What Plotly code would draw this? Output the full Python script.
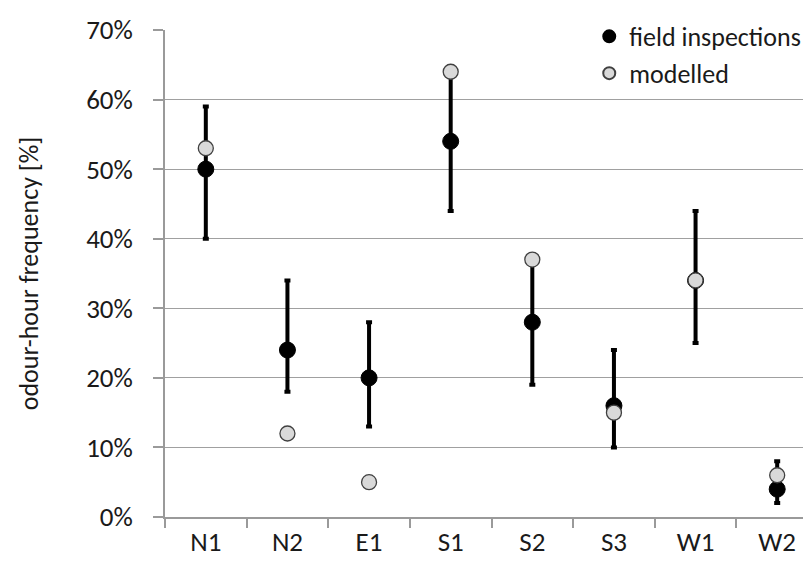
import plotly.graph_objects as go

sites = ["N1", "N2", "E1", "S1", "S2", "S3", "W1", "W2"]
field = [50, 24, 20, 54, 28, 16, 34, 4]
field_upper = [59, 34, 28, 64, 37, 24, 44, 8]
field_lower = [40, 18, 13, 44, 19, 10, 25, 2]
modelled = [53, 12, 5, 64, 37, 15, 34, 6]
y_ticks = [0, 10, 20, 30, 40, 50, 60, 70]
y_tick_labels = ["0%", "10%", "20%", "30%", "40%", "50%", "60%", "70%"]

err_plus = [u - v for u, v in zip(field_upper, field)]
err_minus = [v - l for v, l in zip(field, field_lower)]

FONT = "Carlito, Lato, sans-serif"

fig = go.Figure()
fig.add_trace(go.Scatter(
    x=sites, y=field, mode="markers", name="field inspections",
    marker=dict(color="black", size=16, line=dict(color="black", width=1)),
    error_y=dict(type="data", array=err_plus, arrayminus=err_minus,
                 color="black", thickness=4, width=3),
))
fig.add_trace(go.Scatter(
    x=sites, y=modelled, mode="markers", name="modelled",
    marker=dict(color="#d9d9d9", size=15, line=dict(color="#404040", width=1.3)),
))

fig.update_layout(
    width=811, height=561,
    margin=dict(l=157, r=1, t=22, b=52),
    paper_bgcolor="white", plot_bgcolor="white",
    font=dict(family=FONT, size=27, color="#1a1a1a"),
    showlegend=True,
    legend=dict(x=0.982, y=1.035, xanchor="right", yanchor="top",
                bgcolor="rgba(255,255,255,0)", font=dict(size=26),
                itemsizing="constant", tracegroupgap=0,
                borderwidth=0),
    xaxis=dict(
        type="category", categoryorder="array", categoryarray=sites,
        showgrid=False, showline=True, linecolor="#9a9a9a", linewidth=1.5,
        ticks="outside", tickson="boundaries", ticklen=9, tickcolor="#9a9a9a",
        tickwidth=1.5, tickfont=dict(size=27), range=[-0.5, 7.5],
        ticklabelstandoff=0,
    ),
    yaxis=dict(
        range=[0, 70], tickmode="array", tickvals=y_ticks, ticktext=y_tick_labels,
        showgrid=True, gridcolor="#a0a0a0", gridwidth=1.3,
        showline=True, linecolor="#9a9a9a", linewidth=1.5,
        ticks="outside", ticklen=10, tickcolor="#9a9a9a", tickwidth=1.5,
        tickfont=dict(size=27), zeroline=False, ticklabelstandoff=15,
        title=dict(text="odour-hour frequency [%]", font=dict(size=26), standoff=40),
    ),
)

fig.write_html("out.html")
